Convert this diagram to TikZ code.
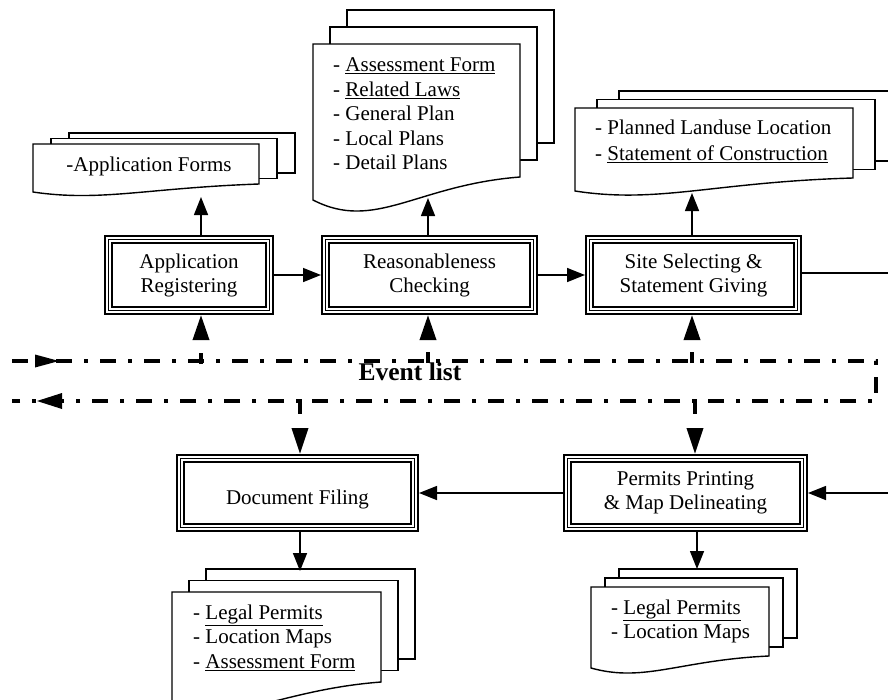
\documentclass[tikz,border=0pt]{standalone}
\usepackage{fontspec}
\setmainfont{Liberation Serif}
\usetikzlibrary{arrows.meta}
\newcommand\boxfont{\fontsize{21}{24}\selectfont}
\newcommand\docfont{\fontsize{21}{24.5}\selectfont}
\newcommand\sitefont{\fontsize{21}{26}\selectfont}
\newcommand\evfont{\fontsize{25.5}{30}\selectfont\bfseries}
% L T R YR YL dx dy a b
\newcommand\docstack[9]{%
  \filldraw[docpage] ({#1+2*#6},{#2-2*#7}) rectangle ({#3+2*#6},{#4-2*#7});
  \filldraw[docpage] ({#1+#6},{#2-#7}) rectangle ({#3+#6},{#4-#7});
  \filldraw[docpage] (#1,#2) -- (#3,#2) -- (#3,#4)
     .. controls ({#3-0.5*(#3-#1)},{#4+#8}) and ({#1+0.3*(#3-#1)},{#5+#9}) .. (#1,#5) -- cycle;
}
\tikzset{
  procbox/.style={draw=black, line width=9pt,
    postaction={draw=white, line width=4.6pt},
    postaction={draw=black, line width=0.9pt},
    outer sep=4.5pt, inner sep=0pt, align=center, font=\boxfont, minimum height=71pt},
  docpage/.style={draw=black, fill=white, line width=1.4pt, line join=miter},
  doctext/.style={anchor=north west, inner sep=0pt, align=left, font=\docfont},
  arr/.style={line width=1.5pt, -{Triangle[length=18pt,width=14pt]}},
  conn/.style={line width=1.5pt},
  evline/.style={line width=3.5pt, dash pattern=on 16pt off 12pt on 4pt off 12pt},
  evup/.style={line width=3.5pt, dash pattern=on 11pt off 20pt, -{Triangle[length=25pt,width=16pt]}},
  evdown/.style={line width=3.5pt, dash pattern=on 15pt off 20pt, -{Triangle[length=26pt,width=16pt]}},
}
\begin{document}
\begin{tikzpicture}[x=1pt, y=-1pt]
\useasboundingbox (0,0) rectangle (888,699);

% documents
\docstack{33}{144}{259}{184}{192}{18}{5.5}{4}{10}
\docstack{313}{44}{520}{177}{200}{17}{17}{8}{32}
\docstack{575}{108}{853}{178}{191}{22}{8.5}{4}{13}
\docstack{172}{592}{381}{682}{702}{17}{11.5}{8}{25}
\docstack{591}{587}{769}{656}{668}{14}{9}{4}{15}

\node[font=\docfont, anchor=base, inner sep=0pt] (aftext) at (149,171) {-Application Forms};
\node[doctext] (rdtext) at (333,57.7) {- \underline{Assessment Form}\\- \underline{Related Laws}\\- General Plan\\- Local Plans\\- Detail Plans};
\node[doctext, font=\sitefont] (sdtext) at (595,119.7) {- Planned Landuse Location\\- \underline{Statement of Construction}};
\node[doctext] (dfdtext) at (193,604.7) {- \underline{Legal Permits}\\- Location Maps\\- \underline{Assessment Form}};
\node[doctext] (pdtext) at (611,599.7) {- \underline{Legal Permits}\\- Location Maps};

% process boxes
\node[procbox, minimum width=161pt] (appreg) at (189,275) {Application\\Registering};
\node[procbox, minimum width=208pt] (reason) at (429.5,275) {Reasonableness\\Checking};
\node[procbox, minimum width=208pt] (site) at (693.5,275) {Site Selecting \&\\Statement Giving};
\node[procbox, minimum width=234pt, minimum height=69pt, text height=23pt, text depth=1pt] (docfile) at (297.5,493) {Document Filing};
\node[procbox, minimum width=236pt, minimum height=69pt] (permits) at (685.5,493) {Permits Printing\\\& Map Delineating};

% document attachment points
\coordinate (afbot) at (201,197);
\coordinate (rdbot) at (428,198);
\coordinate (sdbot) at (692,193);
\coordinate (dftop) at (300,571);
\coordinate (pdtop) at (697,569);
\coordinate (siteout) at (892,273);
\coordinate (permin) at (892,493);

% solid connectors
\draw[arr] (appreg.north -| afbot) -- (afbot);
\draw[arr] (reason.north -| rdbot) -- (rdbot);
\draw[arr] (site.north -| sdbot) -- (sdbot);
\draw[arr] (docfile.south -| dftop) -- (dftop);
\draw[arr] (permits.south -| pdtop) -- (pdtop);
\draw[arr] (appreg) -- (reason);
\draw[arr] (reason) -- (site);
\draw[conn] (site.east |- siteout) -- (siteout);
\draw[arr] (permin) -- (permits.east |- permin);
\draw[arr] (permits) -- (docfile);

% event list
\coordinate (evUL) at (12,361);
\coordinate (evUR) at (876,361);
\coordinate (evLR) at (876,401);
\coordinate (evLL) at (12,401);
\draw[evline] (evUL) -- (evUR) -- (evLR) -- (evLL);
\fill (35,354.5) -- (59,361) -- (35,367.5) -- cycle;
\fill (62,393) -- (37,401) -- (62,409) -- cycle;
\node[font=\evfont, anchor=base, inner sep=0pt] (evlabel) at (410,380) {Event list};

\coordinate (ev1) at (201,364);
\coordinate (ev2) at (428,363);
\coordinate (ev3) at (692,363);
\coordinate (ev4) at (300,399);
\coordinate (ev5) at (695,399);
\draw[evup] (ev1) -- (appreg.south -| ev1);
\draw[evup] (ev2) -- (reason.south -| ev2);
\draw[evup] (ev3) -- (site.south -| ev3);
\draw[evdown] (ev4) -- (docfile.north -| ev4);
\draw[evdown] (ev5) -- (permits.north -| ev5);
\end{tikzpicture}
\end{document}
